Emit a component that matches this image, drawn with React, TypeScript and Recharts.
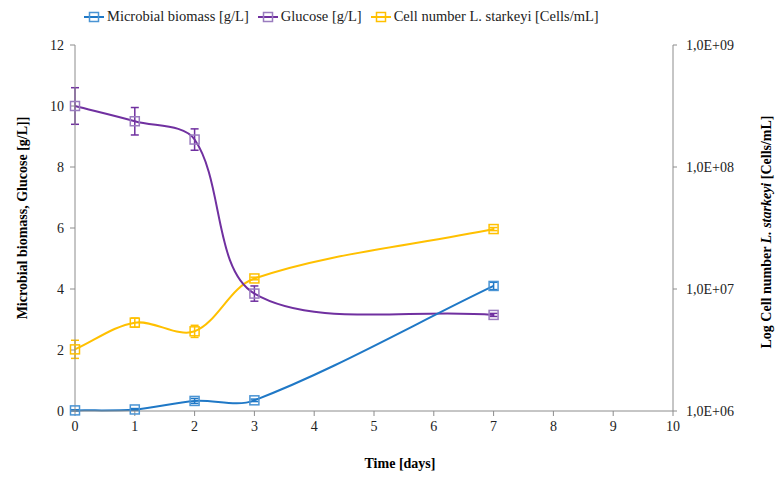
import React from 'react';
import { LineChart, Line, XAxis, YAxis, ErrorBar } from 'recharts';

// sampling days
const days = [0, 1, 2, 3, 7];

// biomass and glucose in g/L (left axis)
const biomass = [0.02, 0.05, 0.33, 0.35, 4.1];
const biomassErr = [0.02, 0.03, 0.08, 0.04, 0.12];
const glucose = [10.0, 9.5, 8.9, 3.85, 3.15];
const glucoseErr = [0.6, 0.45, 0.35, 0.25, 0.05];

// L. starkeyi cell counts in cells/mL (right, log axis); errors as [below, above]
const cells = [3.2e6, 5.3e6, 4.5e6, 1.22e7, 3.1e7];
const cellsErr = [
  [0.5e6, 0.6e6],
  [0.44e6, 0.48e6],
  [0.49e6, 0.54e6],
  [0.3e6, 0.3e6],
  [0.9e6, 0.9e6],
];

const dayTicks = [0, 1, 2, 3, 4, 5, 6, 7, 8, 9, 10];
const gTicks = [0, 2, 4, 6, 8, 10, 12];
const cellTicks = [1e6, 1e7, 1e8, 1e9];

const data = days.map((day, i) => ({
  day,
  biomass: biomass[i],
  biomassErr: biomassErr[i],
  glucose: glucose[i],
  glucoseErr: glucoseErr[i],
  cells: cells[i],
  cellsErr: cellsErr[i],
}));

const BLUE = '#1f78c6';
const PURPLE = '#7030a0';
const YELLOW = '#ffc000';
const AXIS = '#8c8c8c';
const FONT = "'Liberation Serif', 'Times New Roman', serif";

const dist = (a: number[], b: number[]) => Math.hypot(b[0] - a[0], b[1] - a[1]);

// Office-style smoothing: tangent from the neighbours, handle lengths
// split in proportion to the adjacent segment lengths
const smoothCurve = (context: any) => {
  let pts: number[][] = [];
  return {
    areaStart() {},
    areaEnd() {},
    lineStart() {
      pts = [];
    },
    point(x: number, y: number) {
      pts.push([+x, +y]);
    },
    lineEnd() {
      const n = pts.length;
      if (!n) return;
      const k = 1 / 3;
      const handles = pts.map((p, i) => {
        const prev = pts[Math.max(i - 1, 0)];
        const next = pts[Math.min(i + 1, n - 1)];
        const dIn = dist(prev, p);
        const dOut = dist(p, next);
        const sum = dIn + dOut || 1;
        const tx = next[0] - prev[0];
        const ty = next[1] - prev[1];
        return {
          inX: p[0] - tx * (dIn / sum) * k,
          inY: p[1] - ty * (dIn / sum) * k,
          outX: p[0] + tx * (dOut / sum) * k,
          outY: p[1] + ty * (dOut / sum) * k,
        };
      });
      context.moveTo(pts[0][0], pts[0][1]);
      for (let i = 0; i < n - 1; i++) {
        const a = handles[i];
        const b = handles[i + 1];
        context.bezierCurveTo(a.outX, a.outY, b.inX, b.inY, pts[i + 1][0], pts[i + 1][1]);
      }
    },
  };
};

const squareDot = (color: string) => (props: any) => {
  const { cx, cy, index } = props;
  if (cx == null || cy == null) return <g key={index} />;
  return (
    <rect key={index} x={cx - 4.5} y={cy - 4.5} width={9} height={9} fill="none" stroke={color} strokeWidth={1.5} />
  );
};

const sciLabel = (v: number) => '1,0E+' + String(Math.round(Math.log10(v))).padStart(2, '0');

const AxisTick = ({ x, y, payload, anchor, fmt }: any) => (
  <text
    x={x}
    y={y}
    textAnchor={anchor}
    dominantBaseline={anchor === 'middle' ? 'hanging' : 'central'}
    fontFamily={FONT}
    fontSize={14}
    fill="#222"
  >
    {fmt ? fmt(payload.value) : payload.value}
  </text>
);

const LeftTitle = () => (
  <text
    transform="translate(22,218) rotate(-90)"
    textAnchor="middle"
    dominantBaseline="central"
    fontFamily={FONT}
    fontWeight="bold"
    fontSize={14}
    fill="#000"
  >
    Microbial biomass, Glucose [g/L]]
  </text>
);

const RightTitle = () => (
  <text
    transform="translate(766,232) rotate(-90)"
    textAnchor="middle"
    dominantBaseline="central"
    fontFamily={FONT}
    fontWeight="bold"
    fontSize={14}
    fill="#000"
  >
    Log Cell number <tspan fontStyle="italic">L. starkeyi</tspan> [Cells/mL]
  </text>
);

const BottomTitle = () => (
  <text x={400} y={463} textAnchor="middle" dominantBaseline="central" fontFamily={FONT} fontWeight="bold" fontSize={14} fill="#000">
    Time [days]
  </text>
);

const legendItems = [
  { label: 'Microbial biomass [g/L]', color: BLUE, box: '#4a94d4' },
  { label: 'Glucose [g/L]', color: PURPLE, box: '#9a7cbf' },
  { label: 'Cell number L. starkeyi [Cells/mL]', color: YELLOW, box: YELLOW },
];

const LegendIcon = ({ color, box }: { color: string; box: string }) => (
  <svg width={20} height={12} style={{ marginRight: 3 }}>
    <line x1={0} y1={6} x2={20} y2={6} stroke={color} strokeWidth={2} />
    <rect x={5.5} y={1.5} width={9} height={9} fill="none" stroke={box} strokeWidth={1.5} />
  </svg>
);

export default function App() {
  return (
    <div
      style={{
        position: 'absolute',
        left: 0,
        top: 0,
        width: 776,
        height: 477,
        background: '#fff',
        fontFamily: FONT,
      }}
    >
      <div
        style={{
          position: 'absolute',
          top: 8,
          left: 84,
          display: 'flex',
          alignItems: 'center',
          fontFamily: FONT,
          fontSize: 14.5,
          color: '#222',
          whiteSpace: 'nowrap',
        }}
      >
        {legendItems.map((it) => (
          <div key={it.label} style={{ display: 'flex', alignItems: 'center', marginRight: 9 }}>
            <LegendIcon color={it.color} box={it.box} />
            <span>{it.label}</span>
          </div>
        ))}
      </div>
      <LineChart
        width={776}
        height={477}
        data={data}
        margin={{ top: 45, right: 0, bottom: 0, left: 0 }}
        style={{ fontFamily: FONT }}
      >
        <XAxis
          dataKey="day"
          type="number"
          domain={[0, 10]}
          ticks={dayTicks}
          interval={0}
          height={66}
          stroke={AXIS}
          tickSize={5}
          tickMargin={5}
          tick={<AxisTick anchor="middle" />}
          label={<BottomTitle />}
        />
        <YAxis
          yAxisId="left"
          domain={[0, 12]}
          ticks={gTicks}
          interval={0}
          width={75}
          stroke={AXIS}
          tickSize={5}
          tickMargin={6}
          tick={<AxisTick anchor="end" />}
          label={<LeftTitle />}
        />
        <YAxis
          yAxisId="right"
          orientation="right"
          scale="log"
          domain={[1e6, 1e9]}
          allowDataOverflow
          ticks={cellTicks}
          interval={0}
          width={103}
          stroke={AXIS}
          tickSize={4}
          tickMargin={9}
          tick={<AxisTick anchor="start" fmt={sciLabel} />}
          label={<RightTitle />}
        />
        <Line
          yAxisId="right"
          dataKey="cells"
          type={smoothCurve as any}
          stroke={YELLOW}
          strokeWidth={2}
          dot={squareDot(YELLOW)}
          activeDot={false}
          isAnimationActive={false}
        >
          <ErrorBar dataKey="cellsErr" direction="y" width={4} stroke={YELLOW} strokeWidth={1.5} />
        </Line>
        <Line
          yAxisId="left"
          dataKey="glucose"
          type={smoothCurve as any}
          stroke={PURPLE}
          strokeWidth={2}
          dot={squareDot('#9a7cbf')}
          activeDot={false}
          isAnimationActive={false}
        >
          <ErrorBar dataKey="glucoseErr" direction="y" width={4} stroke={PURPLE} strokeWidth={1.5} />
        </Line>
        <Line
          yAxisId="left"
          dataKey="biomass"
          type={smoothCurve as any}
          stroke={BLUE}
          strokeWidth={2}
          dot={squareDot('#4a94d4')}
          activeDot={false}
          isAnimationActive={false}
        >
          <ErrorBar dataKey="biomassErr" direction="y" width={4} stroke={BLUE} strokeWidth={1.5} />
        </Line>
      </LineChart>
    </div>
  );
}
